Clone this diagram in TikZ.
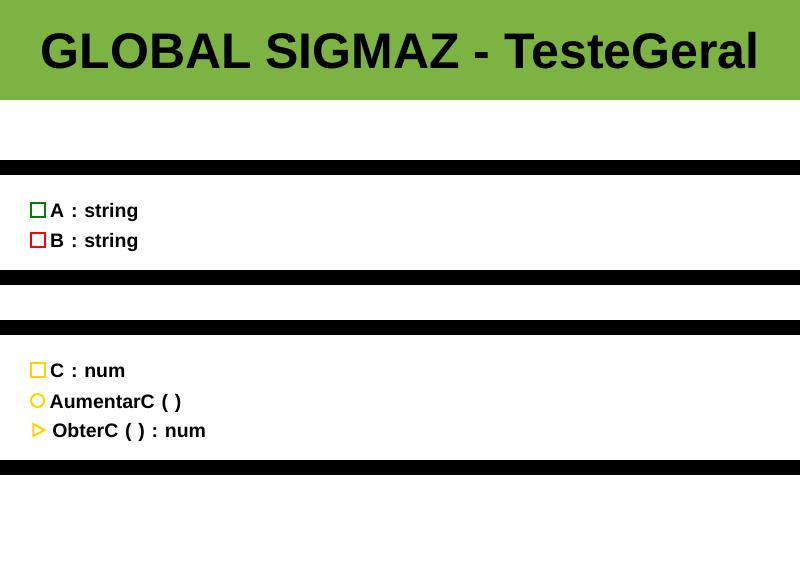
\documentclass[tikz,border=0pt]{standalone}
\usepackage{fontspec}
\setmainfont{Liberation Sans}
\newfontfamily\memberfont{Liberation Sans}[WordSpace=1.25]
\usetikzlibrary{shapes.geometric, positioning}
\definecolor{sgreen}{HTML}{7CB342}
\definecolor{sdark}{HTML}{007F00}
\definecolor{sred}{HTML}{FF0000}
\definecolor{sgold}{HTML}{FFD200}
\tikzset{
  band/.style={fill=sgreen},
  bar/.style={fill=black},
  icon/.style={draw, line width=2pt, inner sep=0pt},
  sqicon/.style={icon, rectangle, minimum size=14pt},
  rdicon/.style={icon, circle, minimum size=13pt},
  triicon/.style={icon, isosceles triangle, isosceles triangle stretches=true,
                  minimum width=12pt, minimum height=11pt},
  member/.style={font=\memberfont\fontsize{19.5}{19.5}\selectfont\bfseries\frenchspacing,
                 inner sep=0pt, text height=17.5pt, text depth=2pt},
  title/.style={font=\fontsize{50}{50}\selectfont\bfseries, inner sep=0pt}
}

\begin{document}
\begin{tikzpicture}[x=1pt, y=-1pt, node distance=4pt]
  \useasboundingbox[fill=white] (0,0) rectangle (800,580);
  % header
  \fill[band] (0,0) rectangle (800,100);
  \node[title] (head) at (400,51) {GLOBAL SIGMAZ - TesteGeral};

  % separators
  \fill[bar] (0,160) rectangle (800,175);
  \fill[bar] (0,270) rectangle (800,285);
  \fill[bar] (0,320) rectangle (800,335);
  \fill[bar] (0,460) rectangle (800,475);

  % attributes
  \node[sqicon, draw=sdark] (icA) at (38,210) {};
  \node[member, right=of icA] (attA) {A : string};
  \node[sqicon, draw=sred] (icB) at (38,240) {};
  \node[member, right=of icB] (attB) {B : string};

  % operations
  \node[sqicon, draw=sgold] (icC) at (38,370) {};
  \node[member, right=of icC] (attC) {C : num};
  \node[rdicon, draw=sgold] (icAum) at (37.5,400.5) {};
  \node[member, right=of icAum, xshift=0.5pt] (opAum) {AumentarC ( )};
  \node[triicon, draw=sgold] (icObt) at (37,430) {};
  \node[member, right=of icObt, xshift=1pt] (opObt) {ObterC ( ) : num};
\end{tikzpicture}
\end{document}
